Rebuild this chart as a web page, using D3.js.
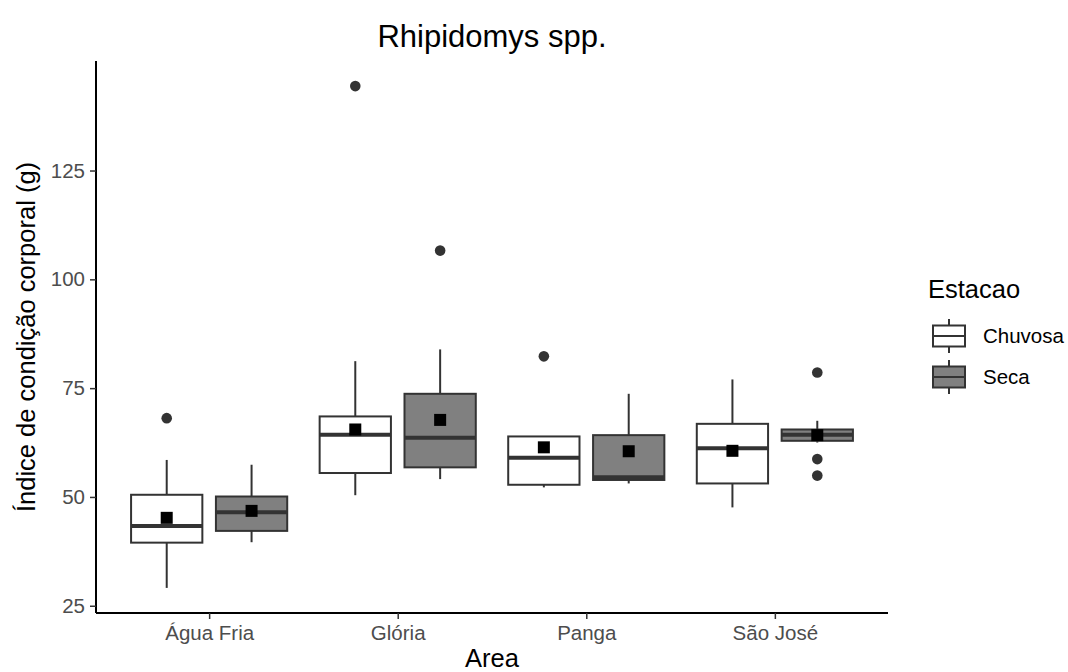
<!DOCTYPE html>
<head>
	<meta charset="utf-8">
	<title>Rhipidomys spp.</title>
	<script src="https://d3js.org/d3.v7.min.js"></script>
	<style>
		body{
			margin: 0;
			background-color: white;
		}
		text{
			font-family: 'Liberation Sans', Arial, sans-serif;
		}
		.tick text{
			font-size: 20.5px;
			fill: #4d4d4d;
		}
	</style>
</head>
<body>
	<div id="chart"></div>

	<script>
		var width = 1068;
		var height = 672;

		//data (one entry per area x season)
		var areas = ["Água Fria", "Glória", "Panga", "São José"];
		var seasons = ["Chuvosa", "Seca"];
		var boxArea   = ["Água Fria", "Água Fria", "Glória", "Glória", "Panga", "Panga", "São José", "São José"];
		var boxSeason = ["Chuvosa", "Seca", "Chuvosa", "Seca", "Chuvosa", "Seca", "Chuvosa", "Seca"];
		var whiskerLow  = [29.1, 39.6, 50.4, 54.1, 52.2, 53.1, 47.6, 62.5];
		var q1          = [39.5, 42.2, 55.5, 56.8, 52.8, 53.9, 53.1, 62.9];
		var median      = [43.3, 46.5, 64.3, 63.6, 59.0, 54.5, 61.2, 64.3];
		var q3          = [50.5, 50.1, 68.5, 73.7, 63.9, 64.2, 66.8, 65.5];
		var whiskerHigh = [58.5, 57.4, 81.2, 83.9, 63.9, 73.7, 77.0, 67.5];
		var means       = [45.2, 46.8, 65.5, 67.7, 61.4, 60.5, 60.6, 64.2];
		var outliers    = [[68.1], [], [144.4], [106.6], [82.3], [], [], [78.6, 58.7, 54.9]];
		var yTicks = [25, 50, 75, 100, 125];

		var boxes = boxArea.map(function(a, i){
			return {area: a, season: boxSeason[i], lo: whiskerLow[i], q1: q1[i], med: median[i],
				q3: q3[i], hi: whiskerHigh[i], mean: means[i], out: outliers[i]};
		});

		var fillColor = d3.scaleOrdinal().domain(seasons).range(["#ffffff", "#808080"]);
		var lineColor = "#333333";

		//plot panel (note: "top" is taken by window.top, so plotTop etc.)
		var plotLeft = 96, plotRight = 888, plotTop = 61, plotBottom = 613;

		//y range like ggplot: data extent + 5% each side
		var allVals = d3.merge([whiskerLow, whiskerHigh, d3.merge(outliers)]);
		var yMin = d3.min(allVals), yMax = d3.max(allVals);
		var pad = (yMax - yMin) * 0.05;
		var y = d3.scaleLinear().domain([yMin - pad, yMax + pad]).range([plotBottom, plotTop]);

		var x = d3.scalePoint().domain(areas).range([plotLeft, plotRight]).padding(0.6);
		var step = x.step();
		var dodge = d3.scalePoint().domain(seasons).range([-0.225 * step, 0.225 * step]);
		var boxW = 0.378 * step;

		var svg = d3.select("#chart").append("svg")
			.attr("width", width)
			.attr("height", height);

		//axes
		svg.append("g")
			.attr("transform", "translate(0," + plotBottom + ")")
			.call(d3.axisBottom(x).tickSize(6).tickPadding(5))
			.call(function(g){
				g.select(".domain").attr("stroke", "#000").attr("stroke-width", 2).attr("d", "M" + plotLeft + ",0H" + plotRight);
				g.selectAll(".tick line").attr("stroke", "#333").attr("stroke-width", 1.5);
				g.selectAll(".tick text").attr("dy", "0.78em");
			});

		svg.append("g")
			.attr("transform", "translate(" + plotLeft + ",0)")
			.call(d3.axisLeft(y).tickValues(yTicks).tickSize(6).tickPadding(5))
			.call(function(g){
				g.select(".domain").attr("stroke", "#000").attr("stroke-width", 2).attr("d", "M0," + plotTop + "V" + plotBottom);
				g.selectAll(".tick line").attr("stroke", "#333").attr("stroke-width", 1.5);
			});

		//one group per box
		var bx = svg.append("g").selectAll("g")
			.data(boxes)
			.enter().append("g")
			.attr("transform", function(d){ return "translate(" + (x(d.area) + dodge(d.season)) + ",0)"; });

		//whiskers
		bx.append("line")
			.attr("y1", function(d){ return y(d.lo); })
			.attr("y2", function(d){ return y(d.q1); })
			.attr("stroke", lineColor).attr("stroke-width", 2);
		bx.append("line")
			.attr("y1", function(d){ return y(d.q3); })
			.attr("y2", function(d){ return y(d.hi); })
			.attr("stroke", lineColor).attr("stroke-width", 2);

		//box
		bx.append("rect")
			.attr("x", -boxW / 2)
			.attr("width", boxW)
			.attr("y", function(d){ return y(d.q3); })
			.attr("height", function(d){ return y(d.q1) - y(d.q3); })
			.attr("fill", function(d){ return fillColor(d.season); })
			.attr("stroke", lineColor).attr("stroke-width", 2);

		//median
		bx.append("line")
			.attr("x1", -boxW / 2).attr("x2", boxW / 2)
			.attr("y1", function(d){ return y(d.med); })
			.attr("y2", function(d){ return y(d.med); })
			.attr("stroke", lineColor).attr("stroke-width", 4);

		//outliers
		bx.selectAll("circle")
			.data(function(d){ return d.out; })
			.enter().append("circle")
			.attr("cy", function(v){ return y(v); })
			.attr("r", 5.3)
			.attr("fill", lineColor);

		//mean squares
		bx.append("rect")
			.attr("x", -6).attr("width", 12)
			.attr("y", function(d){ return y(d.mean) - 6; })
			.attr("height", 12)
			.attr("fill", "#000");

		//titles
		svg.append("text")
			.attr("x", (plotLeft + plotRight) / 2).attr("y", 47)
			.attr("text-anchor", "middle")
			.style("font-size", "31px")
			.text("Rhipidomys spp.");

		svg.append("text")
			.attr("x", (plotLeft + plotRight) / 2).attr("y", 667)
			.attr("text-anchor", "middle")
			.style("font-size", "25.5px")
			.text("Area");

		svg.append("text")
			.attr("transform", "translate(35," + ((plotTop + plotBottom) / 2) + ") rotate(-90)")
			.attr("text-anchor", "middle")
			.style("font-size", "25.5px")
			.text("Índice de condição corporal (g)");

		//legend
		var legend = svg.append("g").attr("transform", "translate(928,0)");
		legend.append("text")
			.attr("x", 0).attr("y", 298)
			.style("font-size", "25.5px")
			.text("Estacao");

		var keys = legend.selectAll(".key")
			.data(seasons)
			.enter().append("g").classed("key", true)
			.attr("transform", function(d, i){ return "translate(0," + (336 + i * 41) + ")"; });
		keys.append("line")
			.attr("x1", 21).attr("x2", 21).attr("y1", -17).attr("y2", 17)
			.attr("stroke", lineColor).attr("stroke-width", 2);
		keys.append("rect")
			.attr("x", 5).attr("y", -10.5).attr("width", 32).attr("height", 21)
			.attr("fill", function(d){ return fillColor(d); })
			.attr("stroke", lineColor).attr("stroke-width", 2);
		keys.append("line")
			.attr("x1", 5).attr("x2", 37).attr("y1", 0).attr("y2", 0)
			.attr("stroke", lineColor).attr("stroke-width", 2);
		keys.append("text")
			.attr("x", 55).attr("y", 0).attr("dy", "0.35em")
			.style("font-size", "20.5px")
			.text(function(d){ return d; });
	</script>
</body>
